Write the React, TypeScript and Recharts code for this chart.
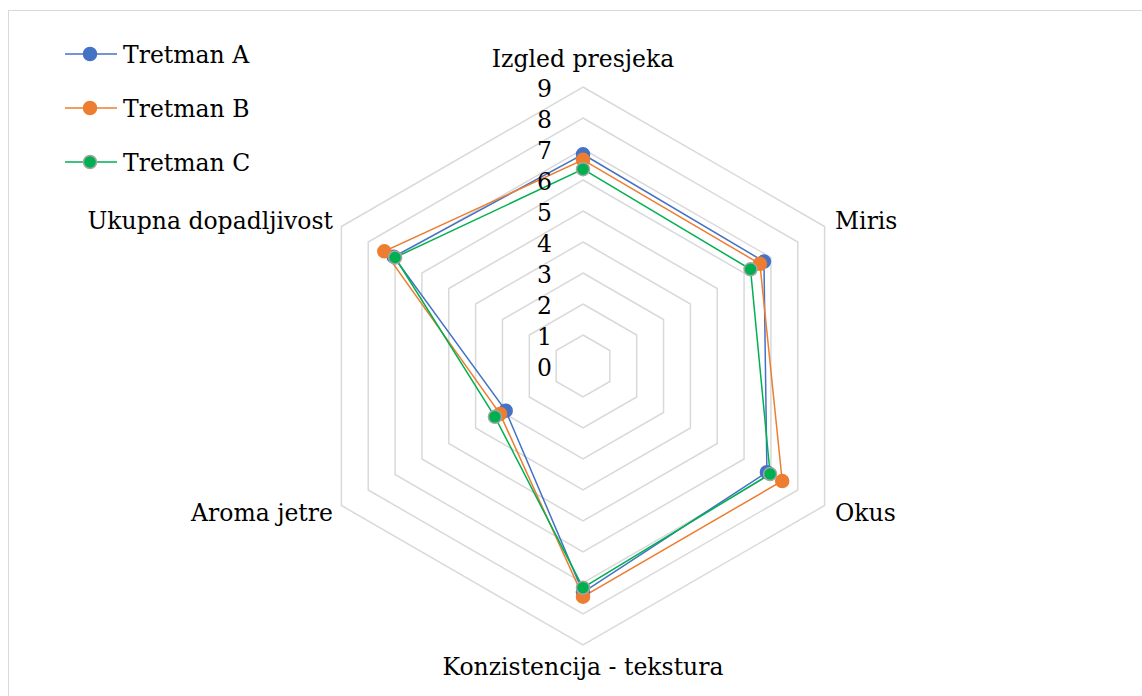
import React from 'react';
import { RadarChart, Radar, PolarGrid, PolarAngleAxis, PolarRadiusAxis, Legend } from 'recharts';

const categories = ['Izgled presjeka', 'Miris', 'Okus', 'Konzistencija - tekstura', 'Aroma jetre', 'Ukupna dopadljivost'];
const tretmanA = [6.83, 6.74, 6.85, 7.3, 2.88, 7.05];
const tretmanB = [6.65, 6.59, 7.42, 7.44, 3.09, 7.4];
const tretmanC = [6.35, 6.24, 6.97, 7.15, 3.28, 7.0];
const radiusTicks = [0, 1, 2, 3, 4, 5, 6, 7, 8, 9];

const seriesNames = ['Tretman A', 'Tretman B', 'Tretman C'];
const lineColors = ['#4472C4', '#ED7D31', '#00B050'];
const markerStroke = ['#4472C4', '#ED7D31', '#A5A5A5'];

const data = categories.map((c, i) => ({
  category: c,
  A: tretmanA[i],
  B: tretmanB[i],
  C: tretmanC[i],
}));

const FONT = 'DejaVu Serif';
const FS = 23.5;

const labelOffsets = [
  { dx: 0, dy: -12, anchor: 'middle' },
  { dx: 3.5, dy: 6, anchor: 'start' },
  { dx: 3.5, dy: 11, anchor: 'start' },
  { dx: 0, dy: 22, anchor: 'middle' },
  { dx: -1.5, dy: 11, anchor: 'end' },
  { dx: -1.5, dy: 6, anchor: 'end' },
];

const AngleTick = (props: any) => {
  const { x, y, payload } = props;
  const idx = categories.indexOf(payload.value);
  const o = labelOffsets[idx] || { dx: 0, dy: 0, anchor: 'middle' };
  return (
    <text x={x + o.dx} y={y + o.dy} textAnchor={o.anchor} fontFamily={FONT} fontSize={FS} fill="#000">
      {payload.value}
    </text>
  );
};

const RadiusTick = (props: any) => {
  const { x, y, payload } = props;
  return (
    <text x={x - 31} y={y + 10} textAnchor="end" fontFamily={FONT} fontSize={FS} fill="#000">
      {payload.value}
    </text>
  );
};

const LegendContent = () => (
  <svg width={300} height={190}>
    {seriesNames.map((n, i) => {
      const y = 54 + i * 54;
      return (
        <g key={n}>
          <line x1={65} x2={117} y1={y} y2={y} stroke={lineColors[i]} strokeWidth={1.5} />
          <circle cx={90} cy={y} r={6.5} fill={lineColors[i]} stroke={markerStroke[i]} strokeWidth={1.5} />
          <text x={123} y={y + 9} fontFamily={FONT} fontSize={FS} fill="#000">{n}</text>
        </g>
      );
    })}
  </svg>
);

export default function App() {
  return (
    <div style={{ position: 'absolute', left: 0, top: 0, width: 1142, height: 696, overflow: 'hidden', background: '#fff' }}>
      <div style={{ position: 'absolute', left: 8, top: 10, width: 1140, height: 700, border: '1.5px solid #D9D9D9', boxSizing: 'border-box' }} />
      <div style={{ position: 'absolute', left: 0, top: 0 }}>
        <RadarChart
          width={1142}
          height={696}
          data={data}
          cx={583}
          cy={366}
          outerRadius={279}
          margin={{ top: 0, right: 0, bottom: 0, left: 0 }}
        >
          <PolarGrid gridType="polygon" radialLines={false} stroke="#D9D9D9" strokeWidth={1.5} />
          <PolarAngleAxis dataKey="category" tick={AngleTick} tickLine={false} axisLine={false} tickSize={8} />
          <PolarRadiusAxis
            angle={90}
            domain={[0, 9]}
            ticks={radiusTicks as any}
            tickCount={10}
            tick={RadiusTick}
            axisLine={false}
            tickLine={false}
          />
          {['A', 'B', 'C'].map((k, i) => (
            <Radar
              key={k}
              name={seriesNames[i]}
              dataKey={k}
              stroke={lineColors[i]}
              strokeWidth={1.5}
              fill="none"
              fillOpacity={0}
              dot={{ r: 6.5, fill: lineColors[i], stroke: markerStroke[i], strokeWidth: 1.5, fillOpacity: 1 }}
              isAnimationActive={false}
            />
          ))}
          <Legend content={LegendContent} wrapperStyle={{ position: 'absolute', left: 0, top: 0, width: 300, height: 190 }} />
        </RadarChart>
      </div>
    </div>
  );
}
